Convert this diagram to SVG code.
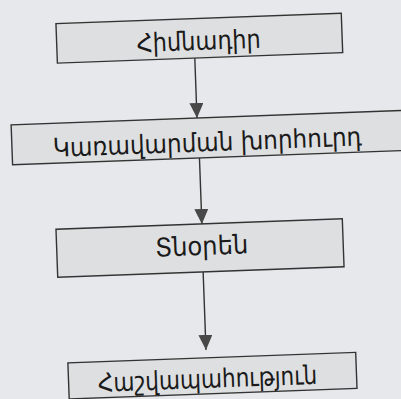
<svg xmlns="http://www.w3.org/2000/svg" width="401" height="399" viewBox="0 0 401 399">
<style>
.box{fill:#dedfe1;stroke:#333;stroke-width:1.4}
.lbl{font-family:"DejaVu Sans",sans-serif;font-size:26px;fill:#1a1a1a;text-anchor:middle}
.conn{stroke:#333;stroke-width:1.4;fill:none}
</style>
<defs>
<marker id="arr" markerUnits="userSpaceOnUse" markerWidth="15" markerHeight="14" refX="15" refY="7" orient="auto" viewBox="0 0 15 14">
<path d="M0,0 L15,7 L0,14 Z" fill="#484848"/>
</marker>
</defs>
<rect width="401" height="399" fill="#e7e8ec"/>
<g transform="rotate(-2.1 200 200)">
<g id="connectors">
<line class="conn" x1="200" y1="58" x2="200" y2="118" marker-end="url(#arr)"/>
<line class="conn" x1="201" y1="158" x2="201" y2="224" marker-end="url(#arr)"/>
<line class="conn" x1="200.5" y1="272" x2="200.5" y2="350" marker-end="url(#arr)"/>
</g>
<g id="n1">
<rect class="box" x="62.5" y="18.5" width="285.5" height="39.5"/>
<text class="lbl" x="204.5" y="50" textLength="124" lengthAdjust="spacingAndGlyphs">Հիմնադիր</text>
</g>
<g id="n2">
<rect class="box" x="14" y="118" width="400" height="40"/>
<text class="lbl" x="209.5" y="151.5" textLength="309" lengthAdjust="spacingAndGlyphs">Կառավարման խորհուրդ</text>
</g>
<g id="n3">
<rect class="box" x="55" y="224" width="286.5" height="48"/>
<text class="lbl" x="200" y="255" textLength="93" lengthAdjust="spacingAndGlyphs">Տնօրեն</text>
</g>
<g id="n4">
<rect class="box" x="62" y="358" width="288" height="36"/>
<text class="lbl" x="201" y="388" textLength="219.5" lengthAdjust="spacingAndGlyphs">Հաշվապահություն</text>
</g>
</g>
</svg>
